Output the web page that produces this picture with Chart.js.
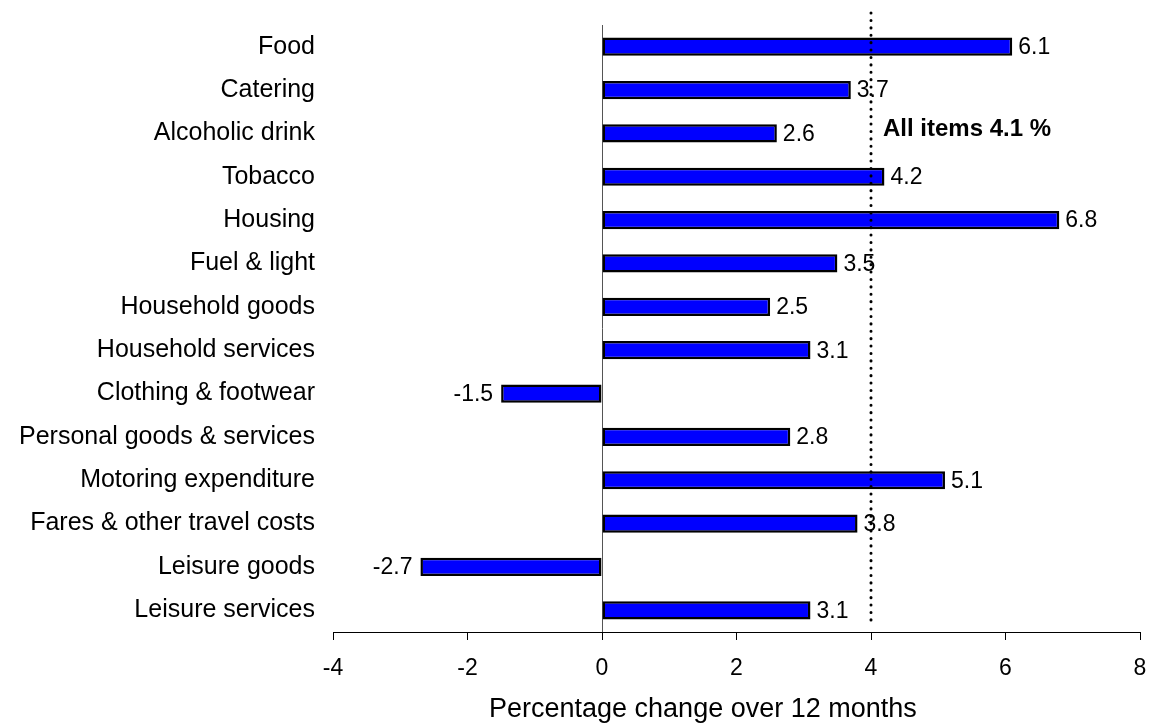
<!DOCTYPE html>
<html>
<head>
<meta charset="utf-8">
<title>Percentage change over 12 months</title>
<script src="https://cdn.jsdelivr.net/npm/chart.js@4/dist/chart.umd.min.js"></script>
<style>
  html, body { margin: 0; padding: 0; background: #fff; }
  #wrap { width: 1153px; height: 724px; }
</style>
</head>
<body>
<div id="wrap"><canvas id="chart"></canvas></div>
<script>
// ------------------------
// Data
// ------------------------
const categories = [
  'Food', 'Catering', 'Alcoholic drink', 'Tobacco', 'Housing', 'Fuel & light',
  'Household goods', 'Household services', 'Clothing & footwear',
  'Personal goods & services', 'Motoring expenditure',
  'Fares & other travel costs', 'Leisure goods', 'Leisure services'
];
const changes = [6.1, 3.7, 2.6, 4.2, 6.8, 3.5, 2.5, 3.1, -1.5, 2.8, 5.1, 3.8, -2.7, 3.1];
const xTicks = [-4, -2, 0, 2, 4, 6, 8];
const allItems = 4.1;        // headline rate shown in the note
const allItemsLine = 4;      // where the dotted line sits on the axis
const allItemsLabel = 'All items ' + allItems + ' %';
const labelRow = 'Alcoholic drink';
const axisTitle = 'Percentage change over 12 months';

const FONT = "'Liberation Sans', Arial, sans-serif";

// ------------------------
// Plugins
// ------------------------

// value labels at the end of each bar
const valueLabels = {
  id: 'valueLabels',
  afterDatasetsDraw(chart) {
    const ctx = chart.ctx;
    const meta = chart.getDatasetMeta(0);
    ctx.save();
    ctx.font = '23px ' + FONT;
    ctx.fillStyle = '#000';
    ctx.textBaseline = 'middle';
    meta.data.forEach((bar, i) => {
      const v = changes[i];
      if (v >= 0) {
        ctx.textAlign = 'left';
        ctx.fillText(v.toFixed(1), bar.x + 6, bar.y + 1);
      } else {
        ctx.textAlign = 'right';
        ctx.fillText(v.toFixed(1), bar.x - 8, bar.y + 1);
      }
    });
    ctx.restore();
  }
};

// dotted "all items" line, its note and the axis title
const allItemsMarker = {
  id: 'allItemsMarker',
  afterDatasetsDraw(chart) {
    const ctx = chart.ctx;
    const xs = chart.scales.x;
    const x = xs.getPixelForValue(allItemsLine);
    const area = chart.chartArea;
    ctx.save();
    ctx.strokeStyle = '#000';
    ctx.lineWidth = 3;
    ctx.lineCap = 'round';
    ctx.setLineDash([0.1, 7.3]);
    ctx.beginPath();
    ctx.moveTo(x, area.top - 12);
    ctx.lineTo(x, area.bottom - 6);
    ctx.stroke();

    ctx.setLineDash([]);
    ctx.font = 'bold 24px ' + FONT;
    ctx.fillStyle = '#000';
    ctx.textAlign = 'left';
    ctx.textBaseline = 'middle';
    const y = chart.scales.y.getPixelForValue(categories.indexOf(labelRow));
    ctx.fillText(allItemsLabel, x + 12, y - 4);

    // axis title sits a little left of the axis centre in the original
    ctx.font = '27px ' + FONT;
    ctx.textAlign = 'center';
    ctx.textBaseline = 'alphabetic';
    ctx.fillText(axisTitle, xs.getPixelForValue(1.5), chart.height - 7);
    ctx.restore();
  }
};

// ------------------------
// Chart
// ------------------------
new Chart(document.getElementById('chart'), {
  type: 'bar',
  data: {
    labels: categories,
    datasets: [{
      data: changes,
      backgroundColor: '#0000FF',
      borderColor: '#000',
      borderWidth: 2.5,
      borderSkipped: false,
      categoryPercentage: 1,
      barPercentage: 0.42
    }]
  },
  options: {
    indexAxis: 'y',
    responsive: true,
    maintainAspectRatio: false,
    animation: false,
    layout: { padding: { top: 25, right: 0, bottom: 0, left: 0 } },
    plugins: {
      legend: { display: false },
      tooltip: { enabled: false }
    },
    scales: {
      x: {
        min: xTicks[0],
        max: xTicks[xTicks.length - 1],
        afterBuildTicks(scale) {
          scale.ticks = xTicks.map(v => ({ value: v }));
        },
        afterFit(scale) {
          scale.height = 92;
          scale.paddingLeft = 0;
          scale.paddingRight = 13;
        },
        border: { display: true, color: '#000', width: 1 },
        grid: {
          drawOnChartArea: true,
          color: ctx => (ctx.tick && ctx.tick.value === 0) ? '#555' : 'rgba(0,0,0,0)',
          lineWidth: 1,
          drawTicks: true,
          tickLength: 8,
          tickColor: '#000'
        },
        ticks: {
          color: '#000',
          font: { family: FONT, size: 23 },
          padding: 15,
          maxRotation: 0
        },
        title: { display: false }
      },
      y: {
        afterFit(scale) {
          scale.width = 333;
          scale.paddingTop = 0;
          scale.paddingBottom = 0;
        },
        border: { display: false },
        grid: { display: false, drawTicks: false },
        ticks: {
          color: '#000',
          font: { family: FONT, size: 25 },
          padding: 18,
          autoSkip: false
        }
      }
    }
  },
  plugins: [valueLabels, allItemsMarker]
});
</script>
</body>
</html>
